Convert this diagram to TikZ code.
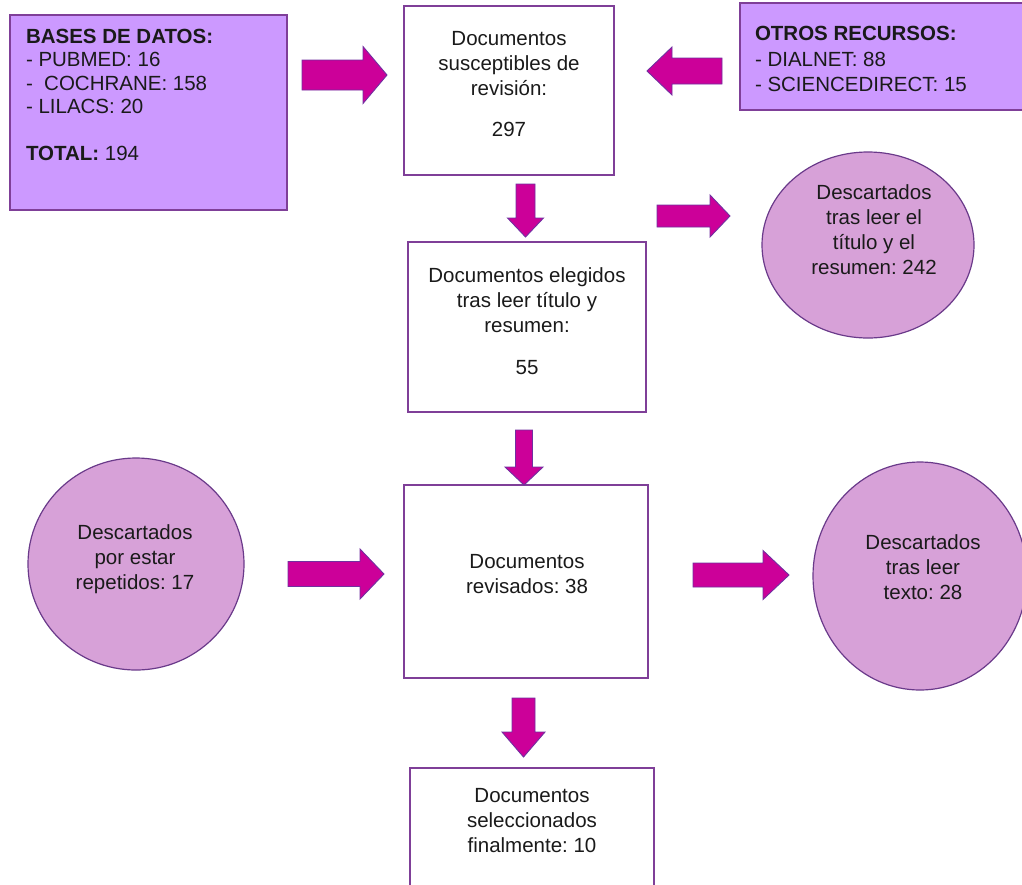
\documentclass[tikz,border=0pt]{standalone}
\usepackage{fontspec}
\setmainfont{Liberation Sans}
\frenchspacing
\usetikzlibrary{shapes.geometric}
\definecolor{lav}{HTML}{CC99FF}
\definecolor{pinkl}{HTML}{D7A1D8}
\definecolor{bordp}{HTML}{7F3F98}
\definecolor{circb}{HTML}{6A3A8A}
\definecolor{mag}{HTML}{CC0099}
\definecolor{arrb}{HTML}{7030A0}
\definecolor{txtc}{HTML}{1A1A1A}
% name, x, y, angle, length, head length, shaft half width, head half width
\newcommand{\blockarrow}[8]{%
  \path (#2,#3) coordinate (#1);
  \draw[barr, shift={(#1)}, rotate=#4]
    (0,-#7) -- (#5-#6,-#7) -- (#5-#6,-#8) -- (#5,0) -- (#5-#6,#8) -- (#5-#6,#7) -- (0,#7) -- cycle;}
\begin{document}
\begin{tikzpicture}[x=1pt,y=-1pt,
  box/.style={draw=bordp, line width=1.3pt, fill=white, inner sep=0pt, outer sep=0pt, anchor=north west},
  lbox/.style={box, fill=lav},
  circ/.style={ellipse, draw=circb, line width=1.2pt, fill=pinkl, inner sep=0pt},
  barr/.style={fill=mag, draw=arrb, line width=0.9pt, line join=miter},
  txt/.style={text=txtc, inner sep=0pt, outer sep=0pt, align=center, font=\fontsize{20.5}{25}\selectfont},
  ltxt/.style={txt, align=left, anchor=north west}]
\useasboundingbox (0,0) rectangle (1022,884);
\clip (0,0) rectangle (1022,884);

% boxes
\node[lbox, minimum width=277, minimum height=195] (bases) at (10,15) {};
\node[ltxt, font=\fontsize{20.5}{23.5}\selectfont] (basest) at (26,29) {\textbf{BASES DE DATOS:}\\- PUBMED: 16\\-\ \ COCHRANE: 158\\- LILACS: 20\\[23.5pt]\textbf{TOTAL:} 194};

\node[lbox, minimum width=290, minimum height=107] (otros) at (740,3) {};
\node[ltxt, font=\fontsize{20.5}{25.5}\selectfont] (otrost) at (755,26.6) {\textbf{OTROS RECURSOS:}\\- DIALNET: 88\\- SCIENCEDIRECT: 15};

\node[box, minimum width=210, minimum height=169] (b1) at (404,6) {};
\node[txt, anchor=north] (b1t) at (509,31.6) {Documentos\\susceptibles de\\revisión:\\[16pt]297};

\node[box, minimum width=238, minimum height=170] (b2) at (408,242) {};
\node[txt, anchor=north] (b2t) at (527,267.6) {Documentos elegidos\\tras leer título y\\resumen:\\[17pt]55};

\node[box, minimum width=244, minimum height=193] (b3) at (404,485) {};
\node[txt, anchor=north] (b3t) at (527,554.6) {Documentos\\revisados: 38};

\node[box, minimum width=244, minimum height=140] (b4) at (410,768) {};
\node[txt, anchor=north] (b4t) at (532,788.6) {Documentos\\seleccionados\\finalmente: 10};

% circles
\node[circ, minimum width=212, minimum height=186] (c1) at (868,245) {};
\node[txt, anchor=north] (c1t) at (874,184.6) {Descartados\\tras leer el\\título y el\\resumen: 242};

\node[circ, minimum width=216, minimum height=212] (c2) at (136,564) {};
\node[txt, anchor=north] (c2t) at (135,524.6) {Descartados\\por estar\\repetidos: 17};

\node[circ, minimum width=214, minimum height=228] (c3) at (920,576) {};
\node[txt, anchor=north] (c3t) at (923,534.6) {Descartados\\tras leer\\texto: 28};

% block arrows
\blockarrow{a1}{302}{75}{0}{85}{24}{15}{28.5}
\blockarrow{a2}{722}{71}{180}{75}{25}{13}{24}
\blockarrow{a3}{525.5}{184}{-90}{53}{19}{9.5}{18}
\blockarrow{a4}{657}{216}{0}{73}{20}{11}{21}
\blockarrow{a5}{524}{430}{-90}{55}{18}{8.5}{19}
\blockarrow{a6}{288}{574}{0}{96}{24}{12.5}{25}
\blockarrow{a7}{693}{575}{0}{96}{26}{12}{24.5}
\blockarrow{a8}{523.5}{698}{-90}{59}{25}{11.5}{21.5}
\end{tikzpicture}
\end{document}
